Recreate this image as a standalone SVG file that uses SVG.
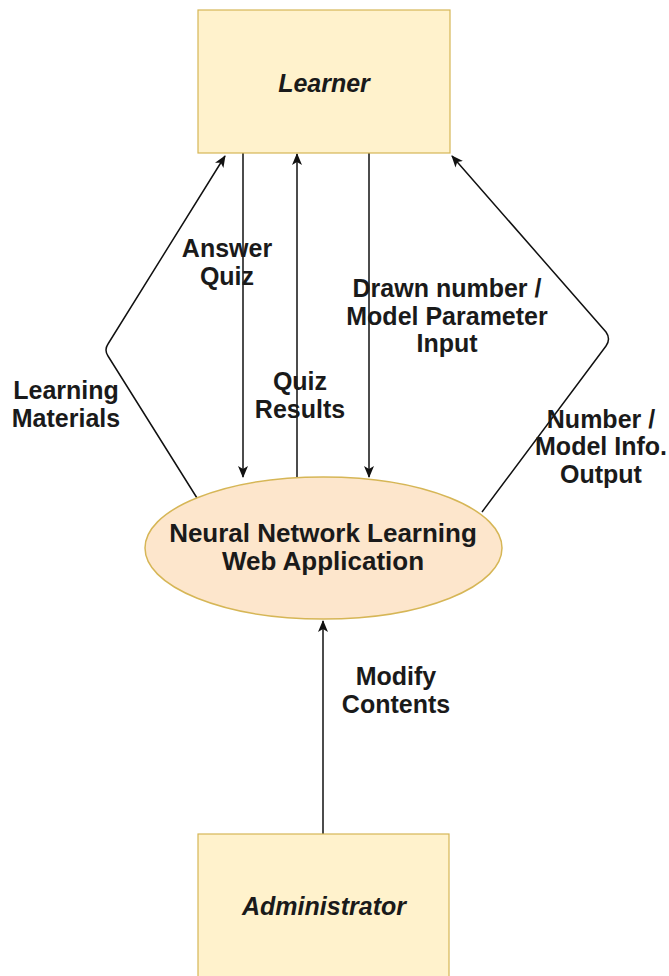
<svg xmlns="http://www.w3.org/2000/svg" width="669" height="976" viewBox="0 0 669 976">
  <style>
    .box { fill: #fff2cc; stroke: #d6b656; stroke-width: 1.2; }
    .ell { fill: #fde6cc; stroke: #d6b656; stroke-width: 1.5; }
    .t { font-family: "Liberation Sans", Arial, sans-serif; font-weight: bold; fill: #1a1a1a; text-anchor: middle; }
    .lbl { font-size: 25px; }
    .nodeT { font-size: 25px; font-style: italic; }
    .ellT { font-size: 26px; }
    .edge { fill: none; stroke: #111; stroke-width: 1.5; }
  </style>
  <defs>
    <marker id="arr" markerUnits="userSpaceOnUse" viewBox="0 0 12 10" refX="11" refY="5" markerWidth="12" markerHeight="10" orient="auto">
      <path d="M0,0 L12,5 L0,10 L3,5 Z" fill="#111"/>
    </marker>
  </defs>
  <rect width="669" height="976" fill="#ffffff"/>

  <g id="connectors">
    <path class="edge" d="M197,498 L108,356 Q104,350 108,344 L225,156" marker-end="url(#arr)"/>
    <path class="edge" d="M243,153 L243,477" marker-end="url(#arr)"/>
    <path class="edge" d="M297,477 L297,154" marker-end="url(#arr)"/>
    <path class="edge" d="M369,153 L369,477" marker-end="url(#arr)"/>
    <path class="edge" d="M482,512 L606,346 Q611,339 606,332 L452,156" marker-end="url(#arr)"/>
    <path class="edge" d="M323,834 L323,621" marker-end="url(#arr)"/>
  </g>

  <g id="edge-labels">
    <text class="t lbl" x="227" y="257">Answer</text>
    <text class="t lbl" x="227" y="285">Quiz</text>
    <text class="t lbl" x="66" y="399">Learning</text>
    <text class="t lbl" x="66" y="427">Materials</text>
    <text class="t lbl" x="300" y="390">Quiz</text>
    <text class="t lbl" x="300" y="418">Results</text>
    <text class="t lbl" x="447" y="297">Drawn number /</text>
    <text class="t lbl" x="447" y="325">Model Parameter</text>
    <text class="t lbl" x="447" y="352">Input</text>
    <text class="t lbl" x="601" y="428">Number /</text>
    <text class="t lbl" x="601" y="455">Model Info.</text>
    <text class="t lbl" x="601" y="483">Output</text>
    <text class="t lbl" x="396" y="685">Modify</text>
    <text class="t lbl" x="396" y="713">Contents</text>
  </g>

  <g id="learner">
    <rect class="box" x="198" y="10" width="252" height="143"/>
    <text class="t nodeT" x="324" y="92">Learner</text>
  </g>

  <g id="webapp">
    <ellipse class="ell" cx="323.5" cy="548" rx="178.5" ry="71"/>
    <text class="t ellT" x="323" y="542">Neural Network Learning</text>
    <text class="t ellT" x="323" y="570">Web Application</text>
  </g>

  <g id="administrator">
    <rect class="box" x="198" y="834" width="251" height="160"/>
    <text class="t nodeT" x="324" y="915">Administrator</text>
  </g>
</svg>
